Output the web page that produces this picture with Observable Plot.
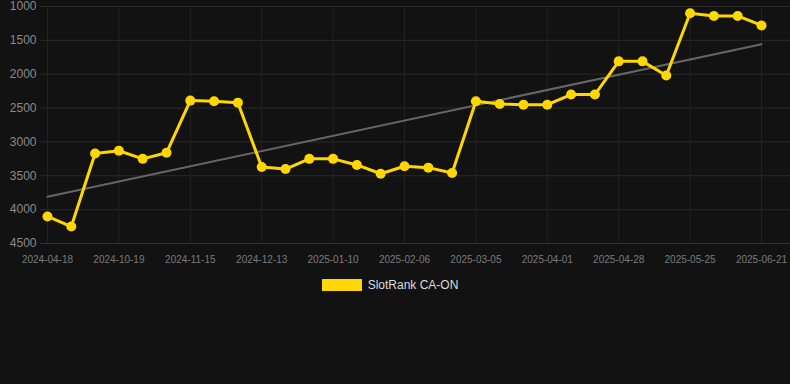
<!DOCTYPE html>
<html>
<head>
<meta charset="utf-8">
<script src="https://cdn.jsdelivr.net/npm/d3@7"></script>
<script src="https://cdn.jsdelivr.net/npm/@observablehq/plot@0.6"></script>
<style>
  html, body { margin: 0; padding: 0; background: #121212; width: 790px; height: 384px; overflow: hidden; }
  #chart svg { display: block; }
  #legend { display: flex; justify-content: center; align-items: center; margin-top: 8px; padding-right: 10px; font-family: "Liberation Sans", Arial, sans-serif; font-size: 12px; color: #dddddd; }
  #legend .sw { width: 40px; height: 12px; background: #FFD700; margin-right: 6px; }
</style>
</head>
<body>
<div id="chart"></div>
<div id="legend"><span class="sw"></span><span>SlotRank CA-ON</span></div>
<script>
const dates = [
  "2024-04-18","2024-10-01","2024-10-10","2024-10-19","2024-10-28","2024-11-06",
  "2024-11-15","2024-11-24","2024-12-04","2024-12-13","2024-12-22","2025-01-01",
  "2025-01-10","2025-01-19","2025-01-28","2025-02-06","2025-02-15","2025-02-24",
  "2025-03-05","2025-03-14","2025-03-23","2025-04-01","2025-04-10","2025-04-19",
  "2025-04-28","2025-05-07","2025-05-16","2025-05-25","2025-06-03","2025-06-12",
  "2025-06-21"
];
const ranks = [
  4100,4250,3170,3130,3250,3160,
  2390,2400,2420,3370,3400,3250,
  3250,3340,3470,3360,3380,3460,
  2400,2440,2450,2450,2300,2300,
  1810,1810,2020,1100,1140,1140,
  1280
];
const tickLabels = ["2024-04-18","2024-10-19","2024-11-15","2024-12-13","2025-01-10","2025-02-06","2025-03-05","2025-04-01","2025-04-28","2025-05-25","2025-06-21"];
const yTicks = [1000,1500,2000,2500,3000,3500,4000,4500];
const seriesName = "SlotRank CA-ON";

const data = dates.map((d, i) => ({date: d, i, rank: ranks[i]}));
const tickIdx = tickLabels.map(t => dates.indexOf(t));

// least-squares trend over point index
const n = ranks.length;
const mx = d3.mean(data, d => d.i), my = d3.mean(ranks);
const slope = d3.sum(data, d => (d.i - mx) * (d.rank - my)) / d3.sum(data, d => (d.i - mx) ** 2);
const trend = [0, n - 1].map(i => ({i, rank: my + slope * (i - mx)}));

const chart = Plot.plot({
  width: 790,
  height: 270,
  marginLeft: 40,
  marginRight: 0,
  marginTop: 6,
  marginBottom: 27,
  insetLeft: 7,
  insetRight: 29,
  style: {background: "#121212", fontFamily: "Liberation Sans, Arial, sans-serif"},
  x: {type: "linear", domain: [0, n - 1]},
  y: {domain: [1000, 4500], reverse: true},
  marks: [
    Plot.gridY(yTicks, {stroke: "#2a2a2a", strokeOpacity: 1}),
    Plot.gridX(tickIdx, {stroke: "#222", strokeOpacity: 1}),
    Plot.ruleY([4500], {stroke: "#333"}),
    Plot.axisY(yTicks, {tickSize: 0, tickPadding: 4, fontSize: 12, fill: "#8a8a8a", label: null, tickFormat: d => String(d)}),
    Plot.axisX(tickIdx, {tickSize: 0, tickPadding: 12, fontSize: 10, fill: "#7a7a7a", label: null, tickFormat: i => dates[i]}),
    Plot.line(trend, {x: "i", y: "rank", stroke: "#666", strokeWidth: 2}),
    Plot.line(data, {x: "i", y: "rank", stroke: "#FFD700", strokeWidth: 3}),
    Plot.dot(data, {x: "i", y: "rank", r: 5, fill: "#FFD700", stroke: "none"})
  ]
});
document.getElementById("chart").appendChild(chart);
</script>
</body>
</html>
